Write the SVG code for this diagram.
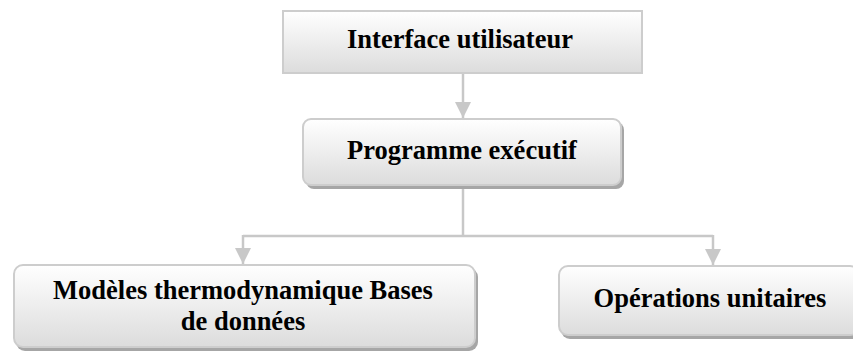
<svg xmlns="http://www.w3.org/2000/svg" width="853" height="353" viewBox="0 0 853 353">
  <style>
    .box { fill: url(#boxFill); stroke: #cdcdcd; stroke-width: 2; }
    .shadow { fill: #a6a6a6; }
    .label { font-family: "Liberation Serif", "Times New Roman", serif; font-weight: bold; font-size: 26.5px; fill: #000; text-anchor: middle; }
    .link { fill: none; stroke: #c8c8c8; stroke-width: 2.5; }
  </style>
  <defs>
    <linearGradient id="boxFill" x1="0" y1="0" x2="0" y2="1">
      <stop offset="0" stop-color="#ffffff"/>
      <stop offset="1" stop-color="#dcdcdc"/>
    </linearGradient>
    <marker id="arrow" viewBox="0 0 10 10" refX="10" refY="5" markerWidth="16" markerHeight="16" markerUnits="userSpaceOnUse" orient="auto">
      <path d="M0,0 L10,5 L0,10 Z" fill="#c8c8c8"/>
    </marker>
  </defs>
  <rect width="853" height="353" fill="#ffffff"/>

  <g id="connectors">
    <line class="link" x1="463" y1="73" x2="463" y2="118" marker-end="url(#arrow)"/>
    <polyline class="link" points="463,188 463,236"/>
    <polyline class="link" points="243,236 713,236"/>
    <line class="link" x1="243" y1="235" x2="243" y2="264" marker-end="url(#arrow)"/>
    <line class="link" x1="713" y1="235" x2="713" y2="265" marker-end="url(#arrow)"/>
  </g>

  <g id="interface-utilisateur">
    <rect class="box" x="283" y="11" width="359" height="62"/>
    <text class="label" x="460" y="48">Interface utilisateur</text>
  </g>

  <g id="programme-executif">
    <rect class="shadow" x="306" y="122" width="318" height="67" rx="8"/>
    <rect class="box" x="303" y="119" width="318" height="66" rx="8"/>
    <text class="label" x="462" y="159">Programme exécutif</text>
  </g>

  <g id="modeles-thermodynamique">
    <rect class="shadow" x="16" y="268" width="462" height="83" rx="9"/>
    <rect class="box" x="14" y="265" width="461" height="82" rx="9"/>
    <text class="label" x="243" y="299">Modèles thermodynamique Bases</text>
    <text class="label" x="243" y="330">de données</text>
  </g>

  <g id="operations-unitaires">
    <rect class="shadow" x="561" y="269" width="300" height="70" rx="9"/>
    <rect class="box" x="559" y="266" width="300" height="69" rx="9"/>
    <text class="label" x="710" y="307">Opérations unitaires</text>
  </g>
</svg>
